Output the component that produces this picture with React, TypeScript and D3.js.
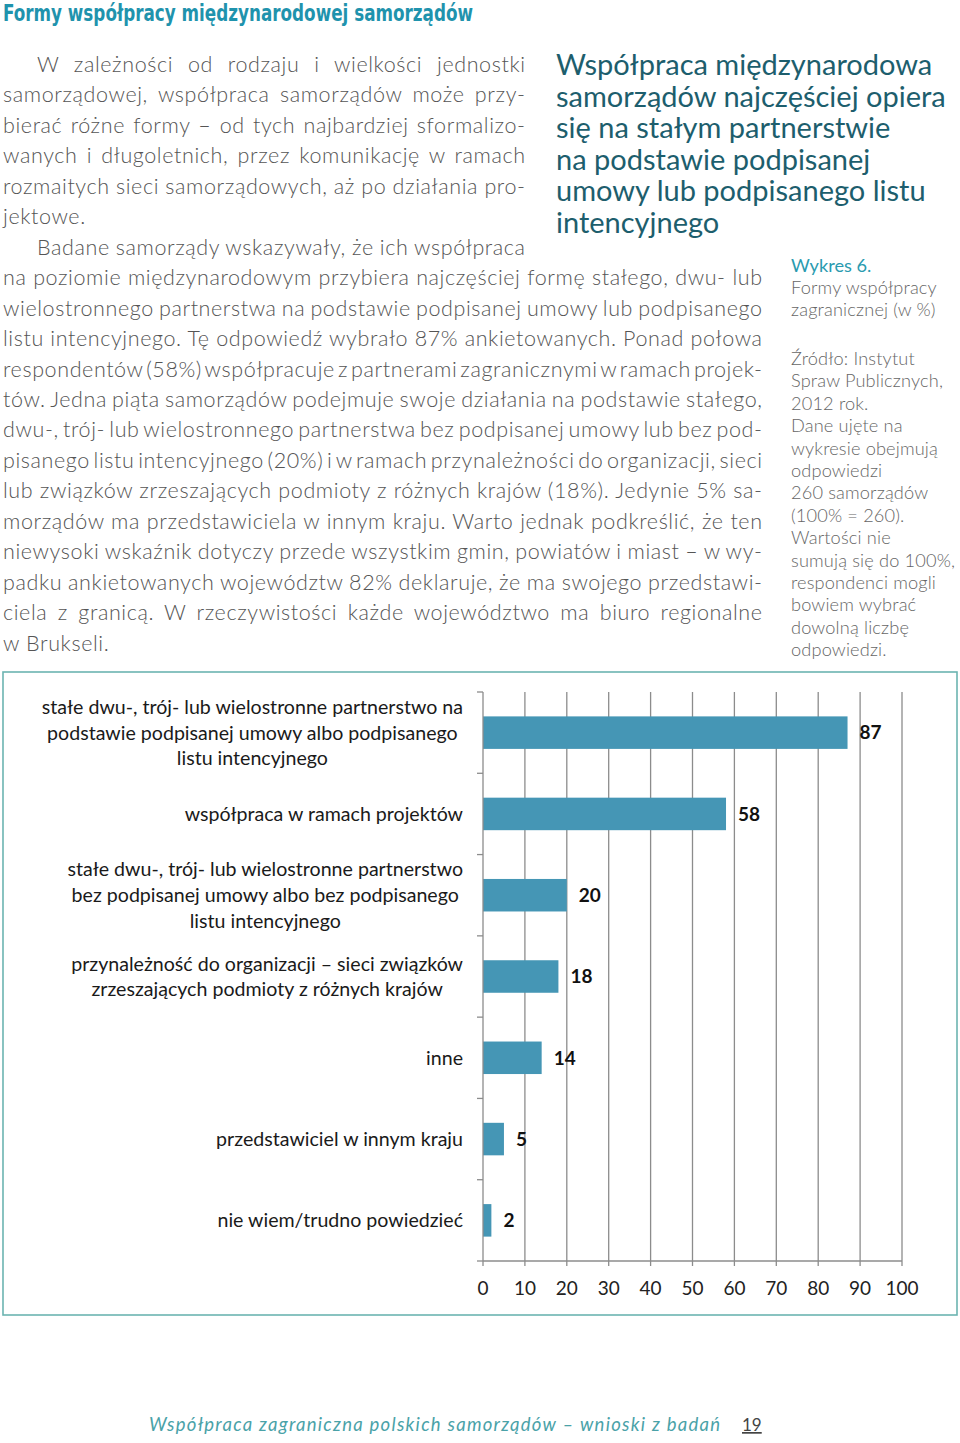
import React, { useEffect, useRef } from 'react';
import * as d3 from 'd3';

// ---------- DATA ----------
const categories: string[][] = [
  ['stałe dwu-, trój- lub wielostronne partnerstwo na', 'podstawie podpisanej umowy albo podpisanego', 'listu intencyjnego'],
  ['współpraca w ramach projektów'],
  ['stałe dwu-, trój- lub wielostronne partnerstwo', 'bez podpisanej umowy albo bez podpisanego', 'listu intencyjnego'],
  ['przynależność do organizacji – sieci związków', 'zrzeszających podmioty z różnych krajów'],
  ['inne'],
  ['przedstawiciel w innym kraju'],
  ['nie wiem/trudno powiedzieć'],
];
const values = [87, 58, 20, 18, 14, 5, 2];
const xTicks = [0, 10, 20, 30, 40, 50, 60, 70, 80, 90, 100];

const pageTitle = 'Formy współpracy międzynarodowej samorządów';
const bodyLines = [
  'W zależności od rodzaju i wielkości jednostki',
  'samorządowej, współpraca samorządów może przy-',
  'bierać różne formy – od tych najbardziej sformalizo-',
  'wanych i długoletnich, przez komunikację w ramach',
  'rozmaitych sieci samorządowych, aż po działania pro-',
  'jektowe.',
  'Badane samorządy wskazywały, że ich współpraca',
  'na poziomie międzynarodowym przybiera najczęściej formę stałego, dwu- lub',
  'wielostronnego partnerstwa na podstawie podpisanej umowy lub podpisanego',
  'listu intencyjnego. Tę odpowiedź wybrało 87% ankietowanych. Ponad połowa',
  'respondentów (58%) współpracuje z partnerami zagranicznymi w ramach projek-',
  'tów. Jedna piąta samorządów podejmuje swoje działania na podstawie stałego,',
  'dwu-, trój- lub wielostronnego partnerstwa bez podpisanej umowy lub bez pod-',
  'pisanego listu intencyjnego (20%) i w ramach przynależności do organizacji, sieci',
  'lub związków zrzeszających podmioty z różnych krajów (18%). Jedynie 5% sa-',
  'morządów ma przedstawiciela w innym kraju. Warto jednak podkreślić, że ten',
  'niewysoki wskaźnik dotyczy przede wszystkim gmin, powiatów i miast – w wy-',
  'padku ankietowanych województw 82% deklaruje, że ma swojego przedstawi-',
  'ciela z granicą. W rzeczywistości każde województwo ma biuro regionalne',
  'w Brukseli.',
];
const indentedLines = [0, 6];
const narrowLines = [0, 1, 2, 3, 4, 5, 6];
const raggedLines = [5, 19];

const headingLines = [
  'Współpraca międzynarodowa',
  'samorządów najczęściej opiera',
  'się na stałym partnerstwie',
  'na podstawie podpisanej',
  'umowy lub podpisanego listu',
  'intencyjnego',
];
const figureLabel = 'Wykres 6.';
const figureCaption = ['Formy współpracy', 'zagranicznej (w %)'];
const figureNote = [
  'Źródło: Instytut',
  'Spraw Publicznych,',
  '2012 rok.',
  'Dane ujęte na',
  'wykresie obejmują',
  'odpowiedzi',
  '260 samorządów',
  '(100% = 260).',
  'Wartości nie',
  'sumują się do 100%,',
  'respondenci mogli',
  'bowiem wybrać',
  'dowolną liczbę',
  'odpowiedzi.',
];
const footerText = 'Współpraca zagraniczna polskich samorządów – wnioski z badań';
const pageNumber = '19';

export default function App() {
  const ref = useRef<SVGSVGElement | null>(null);

  useEffect(() => {
    const svg = d3.select(ref.current);
    svg.selectAll('*').remove();

    // ---- page title ----
    svg.append('text')
      .attr('x', 3).attr('y', 21)
      .attr('font-family', '"DejaVu Sans Condensed", "DejaVu Sans", sans-serif')
      .attr('font-weight', 700).attr('font-size', 23)
      .attr('fill', '#1f93ad')
      .attr('textLength', 470).attr('lengthAdjust', 'spacingAndGlyphs')
      .text(pageTitle);

    // ---- body text (justified) ----
    const body = svg.append('g')
      .attr('font-family', 'Lato, "Open Sans", sans-serif')
      .attr('font-weight', 300)
      .attr('font-size', 21.5)
      .attr('letter-spacing', 0.6)
      .attr('fill', '#555');
    bodyLines.forEach((line, i) => {
      const x0 = indentedLines.includes(i) ? 37 : 3;
      const x1 = narrowLines.includes(i) ? 525 : 762;
      const t = body.append('text')
        .attr('x', x0).attr('y', 72 + i * 30.45)
        .text(line);
      if (!raggedLines.includes(i)) {
        const len = (t.node() as SVGTextElement).getComputedTextLength() - 0.6;
        const spaces = (line.match(/ /g) || []).length;
        if (spaces > 0) t.attr('word-spacing', (x1 - x0 - len) / spaces);
      }
    });

    // ---- heading ----
    const head = svg.append('g')
      .attr('font-family', 'Lato, "Open Sans", sans-serif')
      .attr('font-size', 29)
      .attr('fill', '#1d5e6d');
    headingLines.forEach((line, i) => {
      head.append('text').attr('x', 556).attr('y', 75 + i * 31.6).text(line);
    });

    // ---- side note ----
    const sideFont = 'Lato, "Open Sans", sans-serif';
    svg.append('text')
      .attr('x', 791).attr('y', 272)
      .attr('font-family', sideFont)
      .attr('font-size', 18.2).attr('fill', '#2a9bb0')
      .text(figureLabel);
    const side = svg.append('g')
      .attr('font-family', sideFont)
      .attr('font-weight', 300)
      .attr('font-size', 18.2).attr('letter-spacing', 0.15).attr('fill', '#666');
    figureCaption.forEach((line, i) => {
      side.append('text').attr('x', 791).attr('y', 294 + i * 22.2).text(line);
    });
    figureNote.forEach((line, i) => {
      side.append('text').attr('x', 791).attr('y', 365 + i * 22.4).text(line);
    });

    // ---- chart frame ----
    svg.append('rect')
      .attr('x', 3).attr('y', 672).attr('width', 954).attr('height', 643)
      .attr('fill', 'none').attr('stroke', '#6cb4b1').attr('stroke-width', 1.6);

    // ---- chart ----
    const x = d3.scaleLinear().domain([0, 100]).range([483, 902]);
    const y = d3.scaleBand<number>()
      .domain(categories.map((_, i) => i))
      .range([692, 1261])
      .paddingInner(0.6).paddingOuter(0.3);
    const step = y.step();
    const top = 692, bottom = 1261;

    const g = svg.append('g');
    // gridlines
    g.selectAll('line.grid').data(xTicks.filter(d => d > 0)).join('line')
      .attr('x1', d => x(d)).attr('x2', d => x(d))
      .attr('y1', top).attr('y2', bottom)
      .attr('stroke', '#8c8c8c').attr('stroke-width', 1.3);

    // bars
    g.selectAll('rect.bar').data(values).join('rect')
      .attr('x', x(0)).attr('y', (_, i) => y(i)!)
      .attr('width', d => x(d) - x(0)).attr('height', y.bandwidth())
      .attr('fill', '#4596b5');

    // left axis
    g.append('line').attr('x1', x(0)).attr('x2', x(0)).attr('y1', top).attr('y2', bottom)
      .attr('stroke', '#8c8c8c').attr('stroke-width', 1.3);
    g.selectAll('line.ytick').data(d3.range(categories.length + 1)).join('line')
      .attr('x1', x(0) - 6).attr('x2', x(0))
      .attr('y1', i => top + i * step).attr('y2', i => top + i * step)
      .attr('stroke', '#8c8c8c').attr('stroke-width', 1.3);

    // bottom axis
    g.append('line').attr('x1', x(0)).attr('x2', x(100)).attr('y1', bottom).attr('y2', bottom)
      .attr('stroke', '#8c8c8c').attr('stroke-width', 1.3);
    g.selectAll('line.xtick').data(xTicks).join('line')
      .attr('x1', d => x(d)).attr('x2', d => x(d))
      .attr('y1', bottom).attr('y2', bottom + 5)
      .attr('stroke', '#8c8c8c').attr('stroke-width', 1.3);
    g.selectAll('text.xlab').data(xTicks).join('text')
      .attr('x', d => x(d)).attr('y', 1295)
      .attr('text-anchor', 'middle')
      .attr('font-family', 'Lato, "Open Sans", sans-serif')
      .attr('font-size', 19).attr('fill', '#222')
      .text(d => String(d));

    // value labels
    g.selectAll('text.val').data(values).join('text')
      .attr('x', d => x(d) + 12)
      .attr('y', (_, i) => y(i)! + y.bandwidth() / 2)
      .attr('dy', '0.36em')
      .attr('font-family', 'Lato, "Open Sans", sans-serif')
      .attr('font-weight', 700)
      .attr('font-size', 19).attr('fill', '#111')
      .text(d => String(d));

    // category labels (centered block, right-aligned)
    const lh = 25.6;
    categories.forEach((lines, i) => {
      const cy = y(i)! + y.bandwidth() / 2;
      const grp = g.append('g')
        .attr('font-family', 'Lato, "Open Sans", sans-serif')
        .attr('font-size', 19.6).attr('fill', '#1a1a1a')
        .attr('text-anchor', 'middle');
      const texts = lines.map((ln, j) => grp.append('text')
        .attr('y', cy + (j - (lines.length - 1) / 2) * lh)
        .attr('dy', '0.35em')
        .text(ln));
      const maxW = d3.max(texts, t => (t.node() as SVGTextElement).getComputedTextLength()) || 0;
      texts.forEach(t => t.attr('x', 463 - maxW / 2));
    });

    // ---- footer ----
    svg.append('text')
      .attr('x', 149).attr('y', 1431)
      .attr('font-family', 'Lato, "Open Sans", sans-serif')
      .attr('font-style', 'italic')
      .attr('font-size', 18.5).attr('fill', '#4aa2a8')
      .attr('textLength', 571).attr('lengthAdjust', 'spacing')
      .text(footerText);
    svg.append('text')
      .attr('x', 742).attr('y', 1431)
      .attr('font-family', 'Lato, "Open Sans", sans-serif')
      .attr('font-size', 17).attr('fill', '#444')
      .attr('text-decoration', 'underline')
      .text(pageNumber);
  }, []);

  return (
    <svg
      ref={ref}
      width={960}
      height={1443}
      style={{ position: 'absolute', left: 0, top: 0, background: '#fff' }}
    />
  );
}
